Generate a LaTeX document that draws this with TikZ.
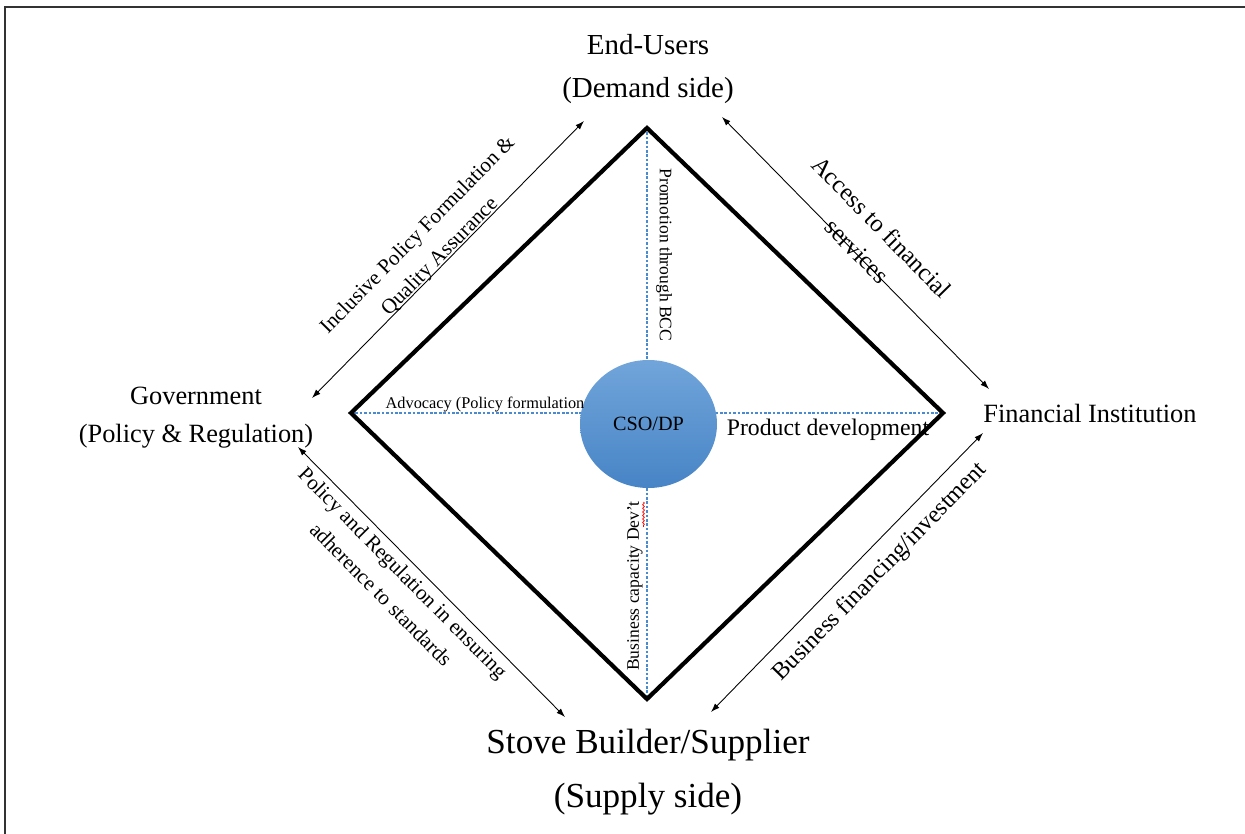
\documentclass[tikz,border=0pt]{standalone}
\usepackage{fontspec}
\setmainfont{Liberation Serif}
\usetikzlibrary{arrows.meta,shapes.geometric,decorations.pathmorphing,positioning}

\definecolor{csotop}{HTML}{71A5DA}
\definecolor{csobot}{HTML}{4784C6}
\definecolor{guide}{HTML}{4A8BD0}

\tikzset{
  actor/.style={align=center, inner sep=0pt},
  biarrow/.style={{Latex[length=5pt,width=3.5pt]}-{Latex[length=5pt,width=3.5pt]}, line width=0.5pt},
  linklabel/.style={align=center, font=\fontsize{12}{17.5}\selectfont},
  guideline/.style={guide, line width=0.6pt, dash pattern=on 1.5pt off 1pt},
}

\begin{document}
\begin{tikzpicture}
    \useasboundingbox (0,0) rectangle (24.9,16.68);
    % Frame
    \draw[line width=1.1pt, black!80] (0.1,0) -- (0.1,16.54) -- (24.9,16.54);

    % Diamond corners
    \coordinate (T) at (12.94,14.12);
    \coordinate (L) at (7.02,8.42);
    \coordinate (R) at (18.86,8.42);
    \coordinate (B) at (12.94,2.70);

    \draw[guideline] (T) -- (B);
    \draw[guideline] (L) -- (R);
    \draw[line width=2.4pt, line join=miter] (T) -- (R) -- (B) -- (L) -- cycle;

    % Centre
    \node[ellipse, minimum width=2.74cm, minimum height=2.56cm, top color=csotop, bottom color=csobot,
          font=\fontsize{11.5}{14}\selectfont] (cso) at (12.97,8.20) {CSO/DP};

    % Actors
    \node[actor, font=\fontsize{16.5}{24}\selectfont] (users) at (12.96,15.30) {End-Users\\(Demand side)};
    \node[actor, font=\fontsize{15}{22}\selectfont] (gov) at (3.92,8.33) {Government\\(Policy \& Regulation)};
    \node[actor, font=\fontsize{15}{18}\selectfont] (fin) at (21.8,8.42) {Financial Institution};
    \node[actor, font=\fontsize{20}{31}\selectfont] (stove) at (12.96,1.24) {Stove Builder/Supplier\\(Supply side)};

    % Arrow ends
    \coordinate (govN) at (6.24,8.72);
    \coordinate (usersW) at (11.68,14.26);
    \coordinate (usersE) at (14.44,14.34);
    \coordinate (finN) at (19.78,8.90);
    \coordinate (finS) at (19.66,8.02);
    \coordinate (stoveE) at (14.22,2.44);
    \coordinate (govS) at (5.96,7.74);
    \coordinate (stoveW) at (11.30,2.34);

    \draw[biarrow] (govN) -- (usersW) node[linklabel, pos=0.49, sloped, above, yshift=-5pt] {Inclusive Policy Formulation \&\\Quality Assurance};
    \draw[biarrow] (usersE) -- (finN) node[linklabel, font=\fontsize{14}{19.5}\selectfont, midway, sloped, above, yshift=-7pt] {Access to financial\\services};
    \draw[biarrow] (stoveE) -- (finS) node[linklabel, font=\fontsize{13.7}{17}\selectfont, pos=0.56, sloped, below, yshift=-3.5pt] {Business financing/investment};
    \draw[biarrow] (govS) -- (stoveW) node[linklabel, pos=0.43, sloped, below] {Policy and Regulation in ensuring\\adherence to standards};

    % Inner labels
    \node[rotate=-90, font=\fontsize{10}{12}\selectfont] (bcc) at (13.28,11.58) {Promotion through BCC};
    \node[font=\fontsize{9.3}{11}\selectfont] (advocacy) at (9.70,8.58) {Advocacy (Policy formulation};
    \node[font=\fontsize{13.5}{16}\selectfont] (product) at (16.56,8.08) {Product development};
    \node[rotate=90, font=\fontsize{10}{12}\selectfont] (bcap) at (12.70,4.96) {Business capacity Dev't};
    \draw[red, decorate, decoration={snake, amplitude=0.5pt, segment length=2pt}] (12.87,6.64) -- (12.87,6.14);
\end{tikzpicture}
\end{document}
